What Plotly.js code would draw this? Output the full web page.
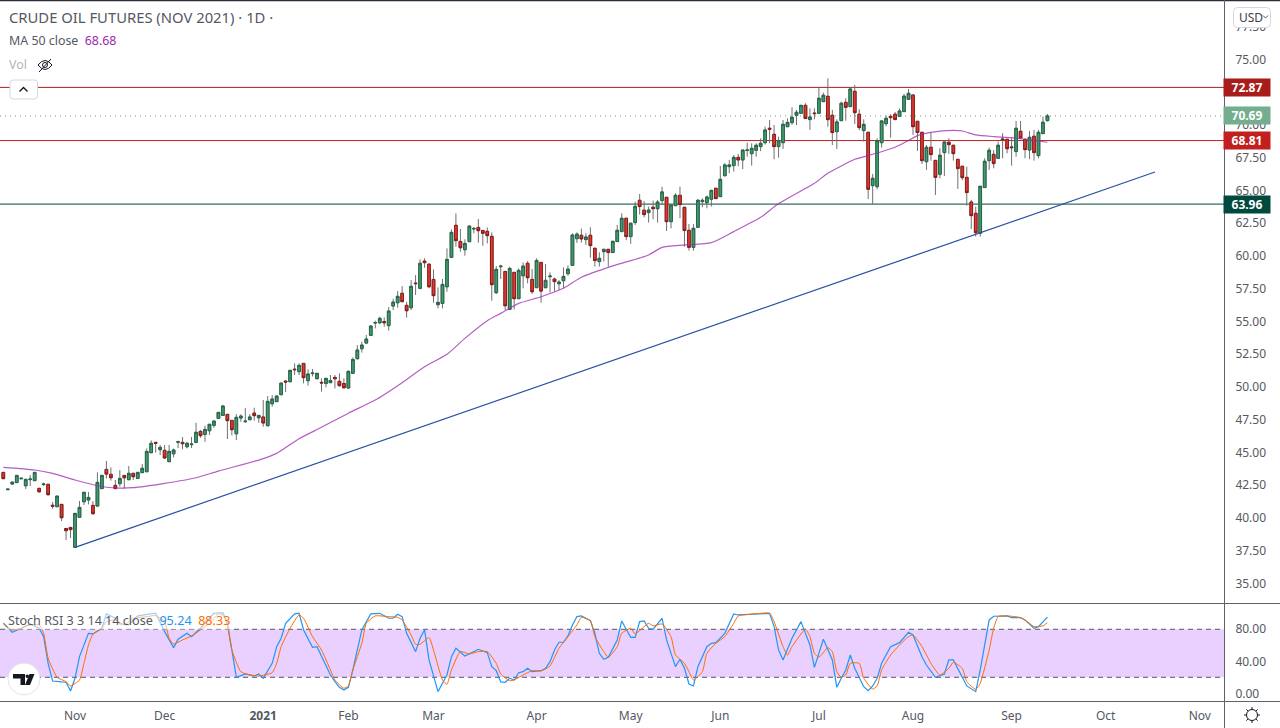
<!DOCTYPE html>
<html>
<head>
<meta charset="utf-8">
<script src="https://cdn.plot.ly/plotly-3.0.1.min.js"></script>
<style>
html, body { margin: 0; padding: 0; background: #fff; overflow: hidden; }
#chart { width: 1280px; height: 728px; }
</style>
</head>
<body>
<div id="chart"></div>
<script>
// daily candles, one value per session
const opens = [
  43.48,42.16,42.59,42.7,42.99,42.46,42.93,42.85,42.26,42.55,
  42.57,40.97,40.86,41.04,39.2,39.28,37.76,40.05,41.24,41.37,
  40.96,40.91,42.24,43.71,43.33,42.49,42.62,43.25,42.92,43.41,
  43.02,43.46,43.53,44.98,45.77,45.21,45.16,44.3,44.9,45.78,
  45.77,45.44,45.6,45.77,46.61,46.38,46.66,47.07,47.6,47.83,
  47.91,47.45,46.43,47.63,47.35,47.5,48.01,47.65,47.71,47.04,
  48.72,48.88,49.41,50.45,50.4,51.36,51.17,51.8,50.48,51.02,
  50.63,50.35,50.27,50.33,50.73,50.43,50.27,49.92,51.04,52.16,
  52.92,53.35,53.94,54.88,54.9,55.0,54.68,56.18,56.43,57.15,
  56.23,56.05,57.93,57.53,59.61,59.38,58.21,56.28,56.38,57.65,
  59.89,62.34,61.11,60.48,61.09,62.06,62.18,61.95,61.88,61.5,
  57.2,59.18,58.82,55.92,58.75,56.74,58.49,59.44,58.21,57.58,
  59.51,57.58,58.42,58.24,57.88,58.11,58.65,59.28,61.32,61.58,
  61.25,61.58,60.59,59.57,60.33,60.51,60.26,61.1,61.86,62.88,
  61.48,62.55,64.25,63.49,63.31,63.72,63.61,64.23,64.48,62.62,
  63.84,64.63,63.72,61.96,60.66,62.19,64.15,64.07,64.33,65.17,
  64.53,66.13,66.82,66.9,67.53,67.33,68.05,67.81,68.07,68.35,
  68.65,69.75,69.29,68.35,68.65,69.87,70.18,70.74,70.89,71.5,
  70.41,70.91,70.89,71.78,72.19,70.74,69.49,70.33,71.73,71.4,
  72.57,70.82,69.57,69.44,65.37,65.29,68.65,70.1,70.66,70.82,
  70.66,71.02,71.96,72.29,70.28,69.44,67.2,68.3,67.3,66.24,
  67.89,68.68,68.45,67.38,66.85,66.0,64.12,63.26,61.73,65.22,
  67.28,67.76,67.46,68.93,68.91,68.32,67.97,69.52,68.91,68.09,
  69.14,67.66,69.34,70.33
];
const highs = [
  43.5,42.2,42.74,43.25,43.03,42.95,43.28,43.48,42.3,42.7,
  42.57,41.22,41.67,41.04,39.2,39.28,40.35,41.3,41.96,41.98,
  41.29,43.48,43.25,44.35,43.86,42.9,43.66,43.25,43.97,43.41,
  43.48,44.12,45.31,45.92,45.8,45.57,45.57,45.57,45.3,45.9,
  46.18,45.82,46.18,47.27,46.71,47.04,47.15,47.4,48.06,48.62,
  47.91,47.45,47.93,47.91,48.39,47.93,48.42,47.83,49.0,49.31,
  49.38,49.31,50.3,50.5,51.27,51.8,51.8,51.8,51.34,51.37,
  51.04,50.66,50.66,50.91,50.91,51.04,50.66,51.27,52.26,53.2,
  53.46,53.97,54.73,55.06,55.37,55.31,56.1,56.74,57.32,57.7,
  56.51,58.16,58.54,59.74,59.82,59.38,58.98,57.6,58.24,60.58,
  62.03,63.25,62.06,61.27,62.36,62.23,62.82,61.95,62.18,61.8,
  59.23,59.33,58.82,59.18,58.75,59.05,59.51,59.61,59.0,59.82,
  59.51,59.38,58.75,58.34,58.16,59.13,59.28,61.73,61.8,62.09,
  61.73,62.19,60.59,60.28,60.51,60.51,61.12,62.37,63.26,62.88,
  62.5,64.15,64.73,64.2,63.77,64.23,64.28,65.29,64.48,63.89,
  64.79,65.29,63.72,62.44,62.44,64.35,64.4,64.6,65.01,65.17,
  66.87,67.08,67.33,67.71,67.79,68.09,68.65,68.6,68.6,68.98,
  69.87,70.38,70.0,69.1,70.38,70.5,71.35,71.15,71.5,71.66,
  71.27,71.27,72.88,72.47,73.56,71.15,70.43,71.78,72.04,72.88,
  73.05,71.2,70.43,69.44,66.26,68.98,70.31,70.71,70.82,71.0,
  71.27,72.37,72.75,72.29,70.28,69.44,68.47,69.44,67.3,68.22,
  68.86,68.98,68.45,67.38,66.85,66.82,64.28,63.77,65.32,67.46,
  68.27,68.09,68.73,69.37,68.91,69.0,70.31,70.31,68.91,69.54,
  69.62,69.62,70.64,70.84
];
const lows = [
  43.0,42.16,42.59,42.7,42.99,42.21,42.44,42.85,41.93,42.44,
  41.7,40.71,40.86,39.77,38.32,38.47,37.76,40.05,40.99,41.04,
  40.25,40.89,42.24,43.02,42.85,42.24,42.39,42.24,42.9,42.9,
  43.02,43.46,43.53,44.98,44.98,44.8,44.5,44.3,44.63,45.34,
  45.24,45.31,45.34,45.7,46.13,45.82,46.33,46.89,47.6,47.83,
  46.03,46.31,45.95,47.35,47.27,47.5,47.43,47.27,46.97,47.04,
  48.5,48.88,49.41,49.61,50.4,50.91,50.91,50.27,50.1,50.8,
  50.6,49.64,49.97,50.33,49.89,50.02,49.87,49.87,51.04,52.1,
  52.62,53.35,53.94,54.47,54.8,54.6,54.3,55.87,56.05,56.51,
  55.29,55.87,57.02,57.45,59.1,57.53,56.43,56.0,56.0,57.27,
  59.89,60.71,60.33,60.02,61.09,61.73,61.01,60.78,60.96,56.59,
  57.1,58.24,55.87,55.87,55.92,56.74,57.53,57.91,57.1,57.58,
  56.43,57.53,57.22,57.27,57.4,57.53,58.5,59.28,61.0,61.02,
  60.84,59.87,59.19,59.19,59.57,59.19,60.26,61.1,61.86,61.2,
  60.92,62.37,63.16,62.95,62.55,62.8,62.55,63.89,61.91,62.11,
  63.84,62.88,60.71,60.41,60.41,62.19,63.72,63.64,63.77,64.38,
  64.53,66.06,66.31,66.44,66.85,66.64,67.58,66.9,67.58,68.0,
  68.5,68.6,67.38,67.5,68.17,69.87,70.0,70.0,70.89,70.49,
  69.62,70.43,70.89,71.78,69.87,68.47,68.17,70.33,70.33,71.4,
  70.08,69.6,68.73,64.35,63.95,65.09,68.27,69.9,69.03,70.41,
  70.66,71.02,71.96,69.24,68.02,67.02,66.57,67.28,64.66,65.93,
  66.11,67.79,67.28,65.12,65.8,63.84,62.06,61.48,61.48,65.22,
  66.57,66.69,67.46,67.46,67.84,66.9,67.58,69.01,67.46,67.4,
  67.28,67.46,69.34,70.26
];
const closes = [
  43.0,42.2,42.74,43.25,43.03,42.95,42.97,43.48,42.0,42.59,
  41.78,40.9,41.67,40.02,39.03,39.11,40.35,40.81,41.96,41.57,
  40.33,42.72,43.25,43.35,43.07,42.24,43.02,43.07,43.41,43.15,
  43.48,43.79,45.08,45.7,45.7,45.39,44.58,45.08,45.19,45.82,
  45.67,45.7,45.64,46.54,46.28,46.76,47.15,47.4,48.06,48.55,
  47.43,46.74,47.68,47.78,47.39,47.71,47.81,47.83,47.25,48.9,
  49.08,49.31,50.3,50.38,51.27,51.32,51.65,50.71,50.99,51.06,
  51.04,50.31,50.66,50.5,50.63,50.1,49.94,51.19,52.1,52.82,
  53.2,53.66,54.65,54.92,55.24,54.9,55.8,56.48,56.92,56.51,
  55.82,57.68,57.89,59.44,59.49,57.65,56.97,56.46,57.83,59.74,
  61.8,61.17,60.63,60.96,62.28,62.1,61.93,61.73,61.55,57.81,
  58.98,59.22,56.2,59.05,56.74,58.9,59.23,58.34,57.27,59.66,
  57.32,58.14,58.46,58.04,58.01,58.44,59.0,61.6,61.67,61.3,
  61.45,60.79,59.65,59.82,60.51,60.26,61.12,61.96,62.88,61.48,
  62.5,63.79,63.77,63.16,63.51,63.61,64.12,64.89,62.62,63.89,
  64.63,63.92,61.94,60.66,62.11,64.25,64.25,64.5,65.01,64.38,
  65.85,66.95,66.95,67.53,67.33,68.09,68.09,68.22,68.45,68.6,
  69.62,69.67,68.35,68.8,70.05,70.2,70.59,70.97,71.5,70.49,
  70.61,70.87,72.04,72.27,70.41,69.42,70.23,71.66,71.35,72.75,
  70.94,69.8,70.05,65.09,65.93,68.81,70.31,70.51,70.56,70.41,
  71.07,72.2,72.42,69.87,69.42,67.28,68.3,67.74,66.0,67.69,
  68.7,68.5,67.81,66.67,65.98,64.84,63.08,61.78,65.32,67.23,
  68.07,67.05,68.45,68.86,68.19,68.27,69.75,69.01,68.12,69.06,
  67.89,69.44,70.21,70.69
];

// MA 50, read at the bends of the line
const maBars = [0,7,11,16,21,25,29,36,43,48,57,61,66,71,77,83,89,94,99,103,108,111,115,120,125,129,
  136,144,147,152,158,163,169,173,181,184,190,193,199,202,204,207,212,214,217,221,225,228,233];
const maValues = [43.86,43.66,43.4,42.9,42.46,42.29,42.31,42.64,43.07,43.58,44.42,44.93,46.05,46.92,48.0,49.0,50.33,51.54,52.49,53.71,55.06,55.62,56.38,56.89,57.53,58.37,
  59.24,60.08,60.66,60.84,61.02,61.86,62.95,64.0,65.55,66.31,67.38,67.66,68.3,68.81,69.19,69.44,69.59,69.54,69.24,69.11,69.03,68.91,68.68];

// rising trend line
const trendBars = [16,257];
const trendPrices = [37.76,66.41];

// Stoch RSI, read at the bends of each line
const kBars = [0,2,4,6,8,9,10,11,13,14,15,16,17,19,20,22,23,25,26,28,30,32,34,36,37,38,39,41,42,44,46,47,49,50,51,52,54,56,57,58,60,61,62,63,65,66,67,69,70,71,73,74,75,76,77,78,79,80,82,84,86,87,88,89,90,92,93,
  94,95,97,98,99,100,101,103,105,106,108,109,110,111,112,113,114,115,116,117,118,120,121,122,123,124,125,126,127,128,129,131,132,133,134,135,137,138,139,140,141,142,143,144,145,147,148,150,151,152,153,154,155,157,158,159,161,162,163,164,166,171,172,173,174,176,178,180,181,183,185,186,187,
  188,189,190,192,193,194,195,196,198,200,202,203,205,206,208,210,211,212,213,215,217,218,220,221,224,225,227,228,230,231,233];
const kValues = [87.5,76.3,81.3,86.7,81.3,70.8,37.5,15.4,14.2,13.8,2.9,18.8,45.8,75,74.2,81.3,99.2,93.8,86.7,85.4,96.7,97.9,100,77.1,66.7,57.1,67.5,75,70.8,81.3,93.8,100,100.8,87.5,54.2,20,24.2,21.7,24.2,18.8,37.5,58.3,68.8,87.5,99.2,100,79.2,57.5,58.3,45.8,22.9,14.6,7.5,4.2,7.5,29.2,54.2,79.2,99.2,100,93.8,93.8,98.8,95.8,75,52.1,68.8,
  79.2,41.7,2.1,12.5,22.9,45.8,56.3,46.7,52.1,55,50.8,33.3,28.3,14.2,13.8,18.8,16.7,25.8,27.1,31.3,27.1,28.3,31.3,39.6,54.2,63.8,63.8,71.7,85.4,95.8,96.7,90.8,75,50,42.5,45,66.7,90.4,80,70,70,89.6,90.4,81.3,80,93.8,66.7,33.3,42.5,31.3,11.7,9.2,33.3,58.3,62.5,63.3,75,87.5,99.2,97.9,98.3,100,83.3,54.2,41.7,68.8,89.6,60.4,32.5,67.5,41.7,7.5,18.8,
  29.2,47.9,31.3,8.3,3.3,9.2,18.8,37.5,58.3,63.3,76.3,72.9,45.8,35.4,20,24.2,41.7,41.7,31.3,9.2,2.1,29.2,91.7,96.3,96.7,94.6,94.6,91.7,81.3,83.3,95.24];
const dBars = [0,2,4,6,8,9,10,12,14,15,17,18,19,20,22,23,25,27,29,32,34,36,37,38,40,42,44,46,48,49,50,51,53,55,57,60,61,62,64,66,67,69,71,73,74,76,77,78,80,81,83,86,88,89,91,92,93,
  95,96,98,99,100,102,104,106,108,110,111,113,114,116,118,120,122,124,126,128,129,131,132,134,135,137,138,140,141,144,145,147,149,150,152,153,154,156,157,159,161,163,164,167,171,172,174,175,176,179,180,181,182,184,185,186,187,
  188,189,191,192,194,195,196,198,200,202,203,205,207,209,211,212,214,215,217,218,220,221,222,224,227,229,230,232,233];
const dValues = [87.5,79.2,81.3,85.4,85.4,75,43.8,20,14.6,9.2,16.7,37.5,60.4,73.8,81.3,89.6,91.7,85.4,93.8,95.8,97.1,89.6,68.8,61.7,66.7,71.7,79.2,87.5,99.2,97.9,85.4,54.2,27.1,22.9,21.7,25.8,37.5,58.3,81.3,97.9,93.8,70.8,54.2,29.2,16.7,6.3,9.2,29.2,62.5,87.5,96.7,95.8,95,91.7,72.9,61.3,61.3,
  69.6,54.2,16.7,11.3,29.2,52.1,49.2,52.1,52.1,37.5,24.2,15.8,16.7,22.9,28.3,27.9,34.2,56.3,70.8,85.4,95,90.8,70.8,52.1,45,58.3,75,81.3,74.2,87.5,84.2,86.7,70.8,47.9,37.5,27.1,16.7,27.1,50,62.5,70.8,87.5,96.7,98.8,100,89.6,58.3,47.9,58.3,80,70.8,50,45,57.1,52.1,27.1,20,
  22.9,37.5,37.5,18.8,5.4,9.2,29.2,47.9,60.4,70.8,72.9,58.3,37.5,22.9,31.3,38.8,31.3,14.6,5,12.5,54.2,81.3,95.8,96.7,94.6,87.5,83.3,84.2,88.33];

// horizontal price levels and right hand badges
const levelPrices = [72.87,68.81,63.96];
const levelColors = ["#a81c1c","#c21f1f","#00493c"];
const lastPrice = 70.69;
const lastColor = "#75ae8e";

// axis labels
const monthBars = [16,36,58,77,96,119,140,160,182,203,225,246,267];
const monthLabels = ["Nov","Dec","<b>2021</b>","Feb","Mar","Apr","May","Jun","Jul","Aug","Sep","Oct","Nov"];
const priceTicks = [35,37.5,40,42.5,45,47.5,50,52.5,55,57.5,60,62.5,65,67.5,70,72.5,75,77.5];
const stochTicks = [0,40,80];

const fontName = '"Noto Sans", sans-serif';
const textGrey = "#55585f";
const plotW = 1224, plotH = 701, paneSplit = 603;

// picture pixels to paper coordinates
const px = (x) => x / plotW;
const py = (y) => (plotH - y) / plotH;
const barIdx = opens.map((v, i) => i);

const rectPath = (x0, y0, x1, y1, r) => {
  const X0 = px(x0), X1 = px(x1), Y0 = py(y0), Y1 = py(y1);
  const rx = r / plotW, ry = r / plotH;
  return `M${X0 + rx},${Y0} L${X1 - rx},${Y0} Q${X1},${Y0} ${X1},${Y0 - ry} L${X1},${Y1 + ry} Q${X1},${Y1} ${X1 - rx},${Y1} L${X0 + rx},${Y1} Q${X0},${Y1} ${X0},${Y1 + ry} L${X0},${Y0 - ry} Q${X0},${Y0} ${X0 + rx},${Y0} Z`;
};
const polyPath = (pts, close) =>
  pts.map((p, i) => (i ? "L" : "M") + px(p[0]) + "," + py(p[1])).join(" ") + (close ? " Z" : "");
const paperShape = (path, color, width, fill) => ({
  type: "path", xref: "paper", yref: "paper", layer: "above", path: path,
  line: { color: color, width: width }, fillcolor: fill || "rgba(0,0,0,0)"
});

const data = [
  {
    type: "candlestick", x: barIdx, open: opens, high: highs, low: lows, close: closes,
    increasing: { line: { color: "#707070", width: 1 }, fillcolor: "#3f9a6e" },
    decreasing: { line: { color: "#707070", width: 1 }, fillcolor: "#e0392e" },
    whiskerwidth: 0, hoverinfo: "skip", xaxis: "x", yaxis: "y"
  },
  {
    // bodies on top, without the wicks, so the border can stay darker than the wick
    type: "candlestick", x: barIdx, open: opens, close: closes,
    high: opens.map((o, i) => Math.max(o, closes[i])),
    low: opens.map((o, i) => Math.min(o, closes[i])),
    increasing: { line: { color: "#27664a", width: 1 }, fillcolor: "#3f9a6e" },
    decreasing: { line: { color: "#8a1c1c", width: 1 }, fillcolor: "#e0392e" },
    whiskerwidth: 0, hoverinfo: "skip", xaxis: "x", yaxis: "y"
  },
  { type: "scatter", mode: "lines", x: maBars, y: maValues, line: { color: "rgba(156,39,176,0.75)", width: 1.2, shape: "spline", smoothing: 0.6 }, xaxis: "x", yaxis: "y" },
  { type: "scatter", mode: "lines", x: trendBars, y: trendPrices, line: { color: "#2a4ea6", width: 1.2 }, xaxis: "x", yaxis: "y" },
  { type: "scatter", mode: "lines", x: kBars, y: kValues, line: { color: "#2196f3", width: 1.2 }, xaxis: "x", yaxis: "y2" },
  { type: "scatter", mode: "lines", x: dBars, y: dValues, line: { color: "#ff6d00", width: 1, shape: "spline", smoothing: 0.5 }, xaxis: "x", yaxis: "y2" }
];

const shapes = [];
// stoch band
shapes.push({ type: "rect", xref: "paper", yref: "y2", x0: 0, x1: 1, y0: 20, y1: 80, layer: "below", fillcolor: "#e9d0fe", line: { width: 0 } });
[20, 80].forEach((v) => shapes.push({ type: "line", xref: "paper", yref: "y2", x0: 0, x1: 1, y0: v, y1: v, layer: "below", line: { color: "#55585f", width: 1, dash: "5px,4px" } }));
// levels
levelPrices.forEach((p, i) => shapes.push({ type: "line", xref: "paper", yref: "y", x0: 0, x1: 1, y0: p, y1: p, layer: "below", line: { color: levelColors[i], width: 1 } }));
shapes.push({ type: "line", xref: "paper", yref: "y", x0: 0, x1: 1, y0: lastPrice, y1: lastPrice, layer: "below", line: { color: "#5f9f7c", width: 1, dash: "1px,4px" } });
// pane borders
const frame = "#5f6268";
shapes.push(paperShape(polyPath([[0, 0.5], [1280, 0.5]]), "#2a2e39", 1.5));
shapes.push(paperShape(polyPath([[0, 603.5], [1280, 603.5]]), frame, 1));
shapes.push(paperShape(polyPath([[0, 701.5], [1280, 701.5]]), frame, 1));
shapes.push(paperShape(polyPath([[1224.5, 0], [1224.5, 728]]), frame, 1));
// collapse button
shapes.push(paperShape(rectPath(10, 80, 37.5, 99, 3), "#d6d8df", 1, "#ffffff"));
shapes.push(paperShape(polyPath([[19.5, 91.5], [23.5, 87.5], [27.5, 91.5]]), "#131722", 1.4));
// currency button
shapes.push(paperShape(rectPath(1233.5, 7.5, 1270.5, 27.5, 4), "#d6d8df", 1, "#ffffff"));
shapes.push(paperShape(polyPath([[1263, 15.5], [1265.5, 18], [1268, 15.5]]), "#55585f", 1));
// hidden volume eye
shapes.push(paperShape(`M${px(38)},${py(65)} Q${px(45)},${py(56)} ${px(52)},${py(65)} Q${px(45)},${py(74)} ${px(38)},${py(65)} Z`, "#131722", 1));
shapes.push(paperShape(polyPath([[39, 72], [51, 59]]), "#131722", 1));
shapes.push({ type: "circle", xref: "paper", yref: "paper", layer: "above", x0: px(42.5), x1: px(47.5), y0: py(67.5), y1: py(62.5), line: { color: "#131722", width: 1 } });
// logo
shapes.push({ type: "circle", xref: "paper", yref: "paper", layer: "above", x0: px(8), x1: px(40), y0: py(695), y1: py(663), fillcolor: "#ffffff", line: { color: "#e4e5e8", width: 1 } });
shapes.push(paperShape(polyPath([[13, 674], [25, 674], [25, 685], [20.5, 685], [20.5, 678.5], [13, 678.5]], true), "#131722", 0, "#131722"));
shapes.push({ type: "circle", xref: "paper", yref: "paper", layer: "above", x0: px(25.5), x1: px(29), y0: py(678), y1: py(674.5), fillcolor: "#131722", line: { width: 0 } });
shapes.push(paperShape(polyPath([[29.5, 674], [34.5, 674], [30, 685], [25, 685]], true), "#131722", 0, "#131722"));
// settings gear
const gearPts = [];
for (let a = 0; a < 8; a++) {
  const t = a * Math.PI / 4;
  gearPts.push(`M${px(1252 + 5.5 * Math.cos(t))},${py(715 + 5.5 * Math.sin(t))} L${px(1252 + 8 * Math.cos(t))},${py(715 + 8 * Math.sin(t))}`);
}
shapes.push(paperShape(gearPts.join(" "), "#131722", 1));
shapes.push({ type: "circle", xref: "paper", yref: "paper", layer: "above", x0: px(1246.5), x1: px(1257.5), y0: py(720.5), y1: py(709.5), line: { color: "#131722", width: 1 } });

const label = (x, y, text, size, extra) => Object.assign({
  xref: "paper", yref: "paper", x: px(x), y: py(y), text: text, showarrow: false,
  xanchor: "left", yanchor: "middle", align: "left",
  font: { family: fontName, size: size, color: textGrey }
}, extra || {});

const annotations = [
  label(7, 17, "CRUDE OIL FUTURES (NOV 2021) · 1D ·", 14.8),
  label(7, 41, 'MA 50 close  <span style="color:#9c27b0">68.68</span>', 12.4),
  label(7, 65, "Vol", 12.4, { font: { family: fontName, size: 12.4, color: "#b2b5be" } }),
  label(7, 620, 'Stoch RSI 3 3 14 14 close  <span style="color:#2196f3">95.24</span>  <span style="color:#ff6d00">88.33</span>', 12.6, { bgcolor: "rgba(255,255,255,0.55)", borderpad: 0 }),
  label(1237, 17, "USD", 12, { font: { family: fontName, size: 12, color: "#3a3d45" } })
];
const badge = (price, color) => ({
  xref: "paper", yref: "y", x: px(1247), y: price, text: "<b>" + price.toFixed(2) + "</b>",
  showarrow: false, xanchor: "center", yanchor: "middle", width: 46, height: 17, borderpad: 0, bgcolor: color,
  font: { family: fontName, size: 12, color: "#ffffff" }
});
levelPrices.forEach((p, i) => annotations.push(badge(p, levelColors[i])));
annotations.push(badge(lastPrice, lastColor));

const layout = {
  width: 1280, height: 728,
  margin: { l: 0, r: 56, t: 0, b: 27, pad: 0 },
  paper_bgcolor: "#ffffff", plot_bgcolor: "#ffffff",
  showlegend: false,
  boxgap: 0.15,
  font: { family: fontName, size: 12, color: textGrey },
  xaxis: {
    anchor: "y2", range: [-0.74, 272.4], rangeslider: { visible: false },
    tickmode: "array", tickvals: monthBars, ticktext: monthLabels,
    showgrid: false, zeroline: false, showline: false,
    ticks: "outside", ticklen: 4, tickcolor: "rgba(0,0,0,0)",
    tickfont: { family: fontName, size: 12, color: textGrey }
  },
  yaxis: {
    domain: [(plotH - paneSplit) / plotH, 1], range: [33.51, 79.54], anchor: "x", side: "right",
    tickmode: "array", tickvals: priceTicks, tickformat: ".2f",
    showgrid: false, zeroline: false, showline: false,
    ticks: "outside", ticklen: 8, tickcolor: "rgba(0,0,0,0)",
    tickfont: { family: fontName, size: 12, color: textGrey }
  },
  yaxis2: {
    domain: [0, (plotH - paneSplit - 1) / plotH], range: [-9.6, 111.6], anchor: "x", side: "right",
    tickmode: "array", tickvals: stochTicks, tickformat: ".2f",
    showgrid: false, zeroline: false, showline: false,
    ticks: "outside", ticklen: 8, tickcolor: "rgba(0,0,0,0)",
    tickfont: { family: fontName, size: 12, color: textGrey }
  },
  shapes: shapes,
  annotations: annotations
};

Plotly.newPlot("chart", data, layout, { staticPlot: true, displayModeBar: false });
</script>
</body>
</html>
